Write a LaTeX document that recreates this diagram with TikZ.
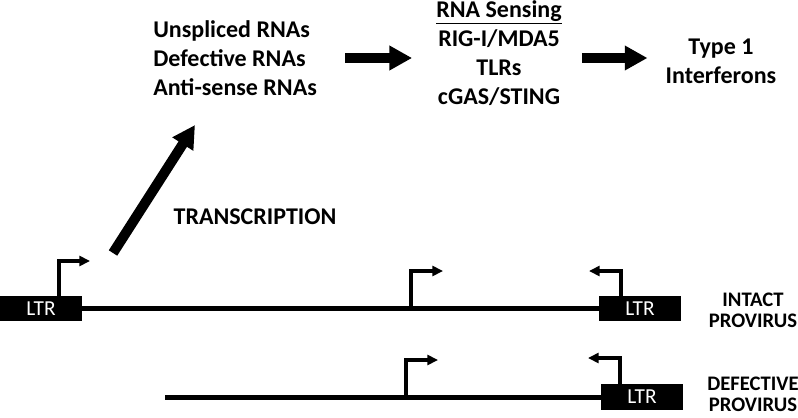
\documentclass[tikz,border=0pt]{standalone}
\usepackage{fontspec}
\setmainfont{Carlito}
\usetikzlibrary{arrows.meta}

\begin{document}
\begin{tikzpicture}[x=0.75pt,y=0.75pt,yscale=-1,xscale=1,
  fatarrow/.style={line width=7.5pt,-{Triangle[length=17pt,width=17.5pt]}},
  promoter/.style={line width=3pt,-{Triangle[length=8pt,width=7.5pt]}},
  dna/.style={line width=3.75pt},
  ltrbox/.style={fill=black,text=white,minimum width=61.5pt,minimum height=19pt,inner sep=0pt,font=\fontsize{16}{18}\selectfont},
  bigtext/.style={font=\fontsize{18}{21.75}\selectfont\bfseries,inner sep=0pt},
  sidetext/.style={font=\fontsize{15.5}{15.75}\selectfont\bfseries,align=center,inner sep=0pt}]
\useasboundingbox (0,0) rectangle (798,417);

% Text Node
\draw (153,58) node [bigtext,anchor=west,align=left] (rnas) {Unspliced RNAs\\Defective RNAs\\Anti-sense RNAs};
% Text Node
\draw (499,53) node [bigtext,align=center] (sensing) {\underline{RNA Sensing}\\RIG-I/MDA5\\TLRs\\cGAS/STING};
% Text Node
\draw (721,61) node [bigtext,align=center] (ifn) {Type 1\\Interferons};
% Text Node
\draw (255,217) node [bigtext] (transcr) {TRANSCRIPTION};

% Connection
\draw [fatarrow,shorten <=21pt,shorten >=18pt] (rnas.east) -- (rnas.east -| sensing.west);
% Connection
\draw [fatarrow,shorten <=15pt,shorten >=13.5pt] (sensing.east |- rnas.east) -- (ifn.west |- rnas.east);
% Connection
\coordinate (txstart) at (113,253);
\coordinate (txend) at (195,125);
\draw [fatarrow] (txstart) -- (txend);

% Intact provirus
\draw (41,308.5) node [ltrbox] (ltrA) {LTR};
\draw (640,308.5) node [ltrbox] (ltrB) {LTR};
\draw [dna] (ltrA.east) -- (ltrB.west);
\draw [promoter] (59,296) |- (90,261);
\draw [promoter] (411,308.5) |- (443,271);
\draw [promoter] (621,296) |- (589,271);
% Text Node
\draw (753,310) node [sidetext] (intact) {INTACT\\PROVIRUS};

% Defective provirus
\draw (642,397) node [ltrbox] (ltrC) {LTR};
\coordinate (defstart) at (165,397);
\draw [dna] (defstart) -- (ltrC.west);
\draw [promoter] (406,397) |- (438,360);
\draw [promoter] (620,384.5) |- (588,358);
% Text Node
\draw (753,394) node [sidetext] (defective) {DEFECTIVE\\PROVIRUS};

\end{tikzpicture}
\end{document}
